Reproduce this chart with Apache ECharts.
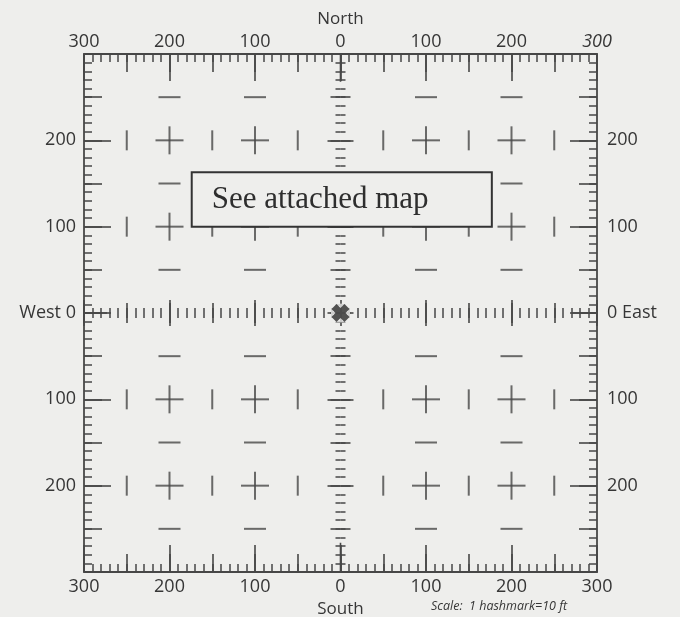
<!DOCTYPE html>
<html>
<head>
<meta charset="utf-8">
<script src="https://cdn.jsdelivr.net/npm/echarts@6/dist/echarts.min.js"></script>
<style>
  html, body { margin: 0; background: #eeeeec; }
  #chart { width: 680px; height: 617px; }
</style>
</head>
<body>
<div id="chart"></div>
<script>
// plot extent in feet, 1 hashmark = 10 ft
const axisMin = -300
const axisMax = 300
const majorStep = 100
const midStep = 50
const hashSplit = 10

// interior marks
const crossCols = [-200, -100, 100, 200]
const crossRows = [-200, -100, 100, 200]
const tickCols = [-250, -150, -50, 50, 150, 250]
const dashCols = [-200, -100, 100, 200]
const dashRows = [-250, -150, -50, 50, 150, 250]
const centerMark = [[0, 0]]
const endSegments = [
  [[-300, 0], [-273, 0]],
  [[271, 0], [300, 0]],
  [[0, 300], [0, 268]],
  [[0, -266], [0, -300]]
]
const mapBox = [[-174, 163], [177, 100]]
const boxText = 'See attached map'

const ink = '#474747'
const labelInk = '#363636'
const paper = '#eeeeec'
const sans = 'Open Sans'

const crossPts = crossCols.flatMap(x => crossRows.map(y => [x, y]))
const tickPts = tickCols.flatMap(x => crossRows.map(y => [x, y]))
const dashPts = dashCols.flatMap(x => dashRows.map(y => [x, y]))

function axis(pos, step, tickLen, extra) {
  return Object.assign({
    type: 'value',
    position: pos,
    min: axisMin,
    max: axisMax,
    interval: step,
    axisLine: { show: false, onZero: false },
    axisTick: { show: true, inside: true, length: tickLen, lineStyle: { color: ink, width: 1.6 } },
    axisLabel: { show: false },
    splitLine: { show: false }
  }, extra)
}

const borderLine = { show: true, onZero: false, lineStyle: { color: ink, width: 1.8 } }
const borderMinor = { show: true, splitNumber: hashSplit, length: 8, lineStyle: { color: ink, width: 1.5 } }
const centerLine = { show: false, onZero: true, onZeroAxisIndex: 0 }
const centerMinor = { show: true, splitNumber: hashSplit, length: 5, lineStyle: { color: ink, width: 1.5 } }
const labelFont = { color: labelInk, fontSize: 18, fontFamily: sans }

function centerAxes(pos) {
  const out = []
  for (const inside of [false, true]) {
    out.push(axis(pos, majorStep, 13, {
      axisLine: centerLine,
      axisTick: { show: true, inside: inside, length: 13, lineStyle: { color: ink, width: 1.6 } },
      minorTick: centerMinor
    }))
    out.push(axis(pos, midStep, 10, {
      axisLine: centerLine,
      axisTick: { show: true, inside: inside, length: 10, lineStyle: { color: ink, width: 1.6 } }
    }))
  }
  return out
}

const xAxes = [
  axis('bottom', majorStep, 27, {
    axisLine: borderLine,
    minorTick: borderMinor,
    axisLabel: Object.assign({ show: true, margin: 6, formatter: v => String(Math.abs(v)) }, labelFont),
    name: 'South', nameLocation: 'middle', nameGap: 22,
    nameTextStyle: { color: labelInk, fontSize: 17, fontFamily: sans }
  }),
  axis('bottom', midStep, 18),
  axis('top', majorStep, 27, {
    axisLine: borderLine,
    minorTick: borderMinor,
    axisLabel: Object.assign({
      show: true, margin: 3,
      formatter: v => v === axisMax ? '{i|' + v + '}' : String(Math.abs(v)),
      rich: { i: { fontStyle: 'italic', fontSize: 18, fontFamily: sans, color: labelInk } }
    }, labelFont),
    name: 'North', nameLocation: 'middle', nameGap: 21,
    nameTextStyle: { color: labelInk, fontSize: 17, fontFamily: sans }
  }),
  axis('top', midStep, 18)
].concat(centerAxes('bottom'))

const yAxes = [
  axis('left', majorStep, 27, {
    axisLine: borderLine,
    minorTick: borderMinor,
    axisLabel: Object.assign({
      show: true, margin: 8,
      formatter: v => v === 0 ? 'West 0' : (Math.abs(v) === axisMax ? '' : String(Math.abs(v)))
    }, labelFont)
  }),
  axis('left', midStep, 18),
  axis('right', majorStep, 27, {
    axisLine: borderLine,
    minorTick: borderMinor,
    axisLabel: Object.assign({
      show: true, margin: 10,
      formatter: v => v === 0 ? '0 East' : (Math.abs(v) === axisMax ? '' : String(Math.abs(v)))
    }, labelFont)
  }),
  axis('right', midStep, 18)
].concat(centerAxes('left'))

function marks(name, data, size) {
  return {
    name: name, type: 'scatter', data: data, symbol: 'rect', symbolSize: size,
    itemStyle: { color: ink }, silent: true, z: 3
  }
}

const series = [
  marks('crossH', crossPts, [28, 2]),
  marks('crossV', crossPts, [2, 28]),
  marks('ticks', tickPts, [2, 20]),
  marks('dashes', dashPts, [22, 2]),
  {
    // clear the ruler ticks under the origin mark
    name: 'originPad', type: 'scatter', data: centerMark, silent: true, z: 4,
    symbol: 'rect', symbolSize: 19, itemStyle: { color: paper }
  },
  {
    name: 'origin', type: 'scatter', data: centerMark, silent: true, z: 5,
    symbol: 'path://M0,2.8L2.8,0L5,2.2L7.2,0L10,2.8L7.8,5L10,7.2L7.2,10L5,7.8L2.8,10L0,7.2L2.2,5Z',
    symbolSize: 18, itemStyle: { color: '#2b2b2b' }
  }
].concat(endSegments.map((seg, i) => ({
  name: 'end' + i, type: 'line', data: seg, symbol: 'none', silent: true, z: 3,
  lineStyle: { color: ink, width: 1.6 }
})))

series.push({
  name: 'box', type: 'line', data: [], silent: true,
  markArea: {
    z: 10,
    silent: true,
    itemStyle: { color: paper, borderColor: '#333', borderWidth: 2, opacity: 1 },
    label: {
      show: true, position: 'insideLeft', distance: 21,
      fontFamily: 'Liberation Serif', fontSize: 31, color: '#2e2e2e'
    },
    emphasis: { disabled: true },
    data: [[{ coord: mapBox[0], name: boxText }, { coord: mapBox[1] }]]
  }
})

const chart = echarts.init(document.getElementById('chart'))
chart.setOption({
  backgroundColor: paper,
  animation: false,
  grid: { left: 84, right: 83, top: 54, bottom: 45, outerBoundsMode: 'none', containLabel: false },
  xAxis: xAxes,
  yAxis: yAxes,
  series: series,
  graphic: [{
    type: 'text', left: 431, top: 600,
    style: { text: 'Scale:  1 hashmark=10 ft', fontSize: 12.5, fontStyle: 'italic', fontFamily: sans, fill: labelInk }
  }]
})
</script>
</body>
</html>
